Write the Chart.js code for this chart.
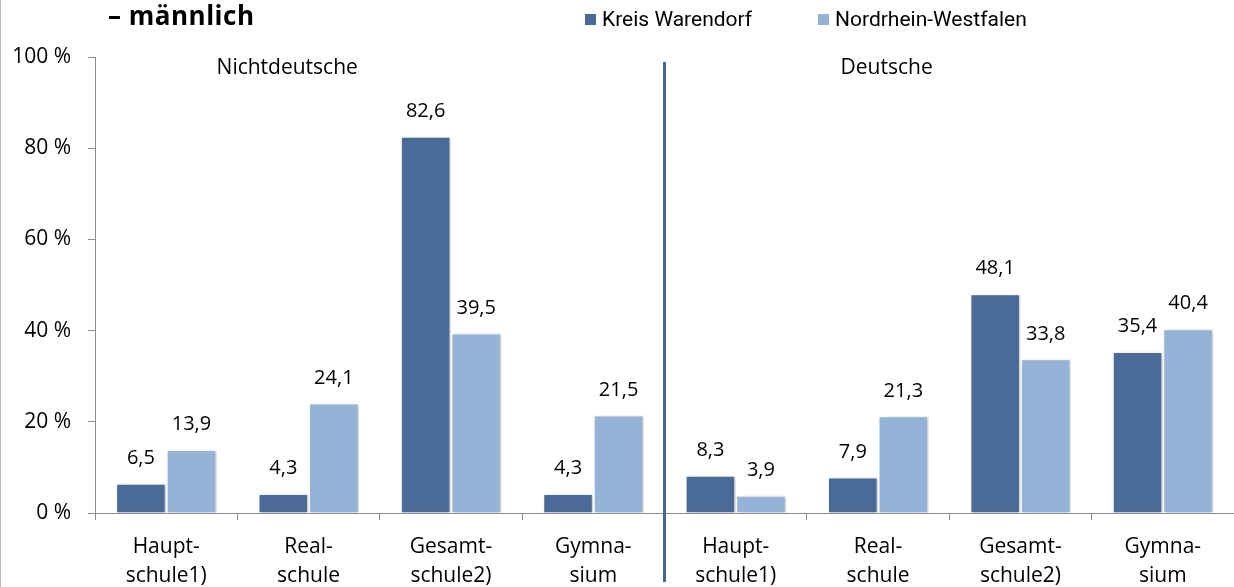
<!DOCTYPE html>
<html>
<head>
<meta charset="utf-8">
<script src="https://cdn.jsdelivr.net/npm/chart.js@4.4.0/dist/chart.umd.min.js"></script>
<style>
  html, body { margin: 0; padding: 0; background: #fff; }
  body { width: 1234px; height: 587px; position: relative; overflow: hidden; font-family: "Open Sans", sans-serif; }
  #frame { position: absolute; left: 0; top: 0; width: 1px; height: 587px; background: #b8b8b8; }
  #title { position: absolute; left: 108px; top: -3px; font-size: 26px; font-weight: bold; letter-spacing: 0.5px; color: #000; }
  .leg { position: absolute; top: 7px; font-family: Roboto, sans-serif; font-size: 21px; color: #000; }
  .leg i { display: inline-block; width: 11px; height: 11px; margin-right: 6px; vertical-align: 1px; }
  canvas { position: absolute; left: 0; top: 0; }
</style>
</head>
<body>
<canvas id="chart" width="1234" height="587"></canvas>
<div id="frame"></div>
<div id="title">– männlich</div>
<div class="leg" style="left:585px"><i style="background:#4a6b97"></i>Kreis Warendorf</div>
<div class="leg" style="left:818px"><i style="background:#95b3d7"></i>Nordrhein-Westfalen</div>
<script>
document.addEventListener("DOMContentLoaded", function() {
    // --- DATA ---
    const categories = [
        ['Haupt-', 'schule1)'], ['Real-', 'schule'], ['Gesamt-', 'schule2)'], ['Gymna-', 'sium'],
        ['Haupt-', 'schule1)'], ['Real-', 'schule'], ['Gesamt-', 'schule2)'], ['Gymna-', 'sium']
    ];
    const kreisWarendorf = [6.5, 4.3, 82.6, 4.3, 8.3, 7.9, 48.1, 35.4];
    const nrw = [13.9, 24.1, 39.5, 21.5, 3.9, 21.3, 33.8, 40.4];
    const groupLabels = ['Nichtdeutsche', 'Deutsche'];
    const yTicks = [0, 20, 40, 60, 80, 100];

    const fontFamily = "'Open Sans', sans-serif";

    // soft bar shadow like the office chart
    const shadowPlugin = {
        id: 'barShadow',
        beforeDatasetsDraw(chart) {
            const ctx = chart.ctx;
            ctx.save();
            ctx.shadowColor = 'rgba(0,0,0,0.22)';
            ctx.shadowBlur = 4;
            ctx.shadowOffsetX = 2;
            ctx.shadowOffsetY = 1;
        },
        afterDatasetsDraw(chart) {
            chart.ctx.restore();
        }
    };

    // value labels, divider line and group titles
    const extrasPlugin = {
        id: 'extras',
        afterDraw(chart) {
            const ctx = chart.ctx;
            const x = chart.scales.x;
            const area = chart.chartArea;
            ctx.save();

            // value labels
            ctx.font = "20px " + fontFamily;
            ctx.fillStyle = '#000';
            ctx.textAlign = 'center';
            ctx.textBaseline = 'middle';
            chart.data.datasets.forEach((ds, i) => {
                chart.getDatasetMeta(i).data.forEach((bar, j) => {
                    ctx.fillText(ds.data[j].toFixed(1).replace('.', ','), bar.x, bar.y - 25);
                });
            });

            // divider between the two groups
            const mid = (x.getPixelForValue(3) + x.getPixelForValue(4)) / 2;
            ctx.strokeStyle = '#3f679c';
            ctx.lineWidth = 3;
            ctx.beginPath();
            ctx.moveTo(mid, area.top + 5);
            ctx.lineTo(mid, chart.height - 5);
            ctx.stroke();

            // group titles
            ctx.font = "21px " + fontFamily;
            ctx.fillText(groupLabels[0], x.getPixelForValue(0.85), area.top + 11);
            ctx.fillText(groupLabels[1], x.getPixelForValue(5.06), area.top + 11);
            ctx.restore();
        }
    };

    new Chart(document.getElementById('chart'), {
        type: 'bar',
        data: {
            labels: categories,
            datasets: [{
                label: 'Kreis Warendorf',
                data: kreisWarendorf,
                backgroundColor: '#4a6b97',
                borderColor: '#ffffff',
                borderWidth: 1.5
            }, {
                label: 'Nordrhein-Westfalen',
                data: nrw,
                backgroundColor: '#95b3d7',
                borderColor: '#ffffff',
                borderWidth: 1.5
            }]
        },
        options: {
            responsive: false,
            animation: false,
            layout: { padding: { top: 57, left: 0, right: 0, bottom: 0 } },
            datasets: { bar: { categoryPercentage: 0.71, barPercentage: 1.0 } },
            scales: {
                y: {
                    min: 0,
                    max: 100,
                    afterBuildTicks(scale) { scale.ticks = yTicks.map(v => ({ value: v })); },
                    afterFit(scale) { scale.width = 95; },
                    ticks: {
                        color: '#000',
                        padding: 17,
                        font: { family: fontFamily, size: 21 },
                        callback: v => v + ' %'
                    },
                    grid: { drawOnChartArea: false, tickLength: 7, color: '#8c8c8c' },
                    border: { color: '#8c8c8c' }
                },
                x: {
                    afterFit(scale) { scale.height = 74; },
                    ticks: {
                        color: '#000',
                        padding: 13,
                        maxRotation: 0,
                        autoSkip: false,
                        font: { family: fontFamily, size: 21, lineHeight: 1.36 }
                    },
                    grid: { drawOnChartArea: false, offset: true, tickLength: 7, color: '#8c8c8c' },
                    border: { color: '#8c8c8c' }
                }
            },
            plugins: {
                legend: { display: false },
                tooltip: { enabled: false }
            }
        },
        plugins: [shadowPlugin, extrasPlugin]
    });
});
</script>
</body>
</html>
